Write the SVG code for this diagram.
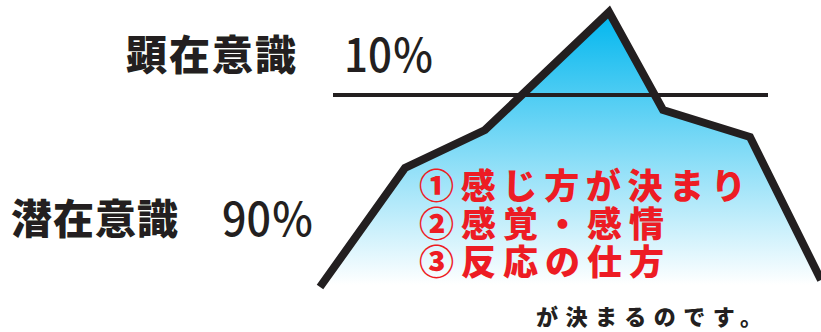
<svg xmlns="http://www.w3.org/2000/svg" width="821" height="332" viewBox="0 0 821 332">
<defs>
<linearGradient id="ice" x1="0" y1="12" x2="0" y2="285" gradientUnits="userSpaceOnUse">
<stop offset="0" stop-color="#00b6ee"/>
<stop offset="1" stop-color="#ffffff"/>
</linearGradient>
<style>
.lbl{font-family:"Noto Sans CJK JP","Noto Sans",sans-serif;font-weight:900;fill:#231f20}
.pct{font-family:"Noto Sans CJK JP","Liberation Sans",sans-serif;font-weight:500;fill:#231f20}
.red{font-family:"Noto Sans CJK JP",sans-serif;font-weight:900;fill:#ed1c24;font-size:35px}
.edge{fill:none;stroke:#231f20;stroke-width:8;stroke-linejoin:miter}
</style>
</defs>
<rect width="821" height="332" fill="#ffffff"/>
<g id="iceberg">
<polygon points="320,287 405,168 485,130 609,12 663,110 750,137 821,280 821,332 320,332" fill="url(#ice)" stroke="none"/>
<rect x="300" y="290" width="521" height="42" fill="#ffffff"/>
<polyline class="edge" points="320,287 405,168 485,130 609,12 663,110 750,137 821,280"/>
</g>
<g id="waterline">
<line x1="333" y1="95" x2="768" y2="95" stroke="#231f20" stroke-width="4"/>
</g>
<g id="conscious">
<text class="lbl" x="126" y="70" font-size="41" textLength="170" lengthAdjust="spacing">顕在意識</text>
<text class="pct" x="344" y="72" font-size="46" textLength="90" lengthAdjust="spacingAndGlyphs">10％</text>
</g>
<g id="subconscious">
<text class="lbl" x="11" y="234" font-size="41" textLength="167" lengthAdjust="spacing">潜在意識</text>
<text class="pct" x="222" y="236" font-size="46" textLength="92" lengthAdjust="spacingAndGlyphs">90％</text>
</g>
<g id="items">
<text class="red" x="419" y="199" textLength="327" lengthAdjust="spacing">①感じ方が決まり</text>
<text class="red" x="419" y="237" textLength="245" lengthAdjust="spacing">②感覚・感情</text>
<text class="red" x="419" y="275" textLength="245" lengthAdjust="spacing">③反応の仕方</text>
</g>
<g id="footer">
<text class="lbl" x="536" y="325" font-size="22" textLength="226" lengthAdjust="spacing">が決まるのです。</text>
</g>
</svg>
